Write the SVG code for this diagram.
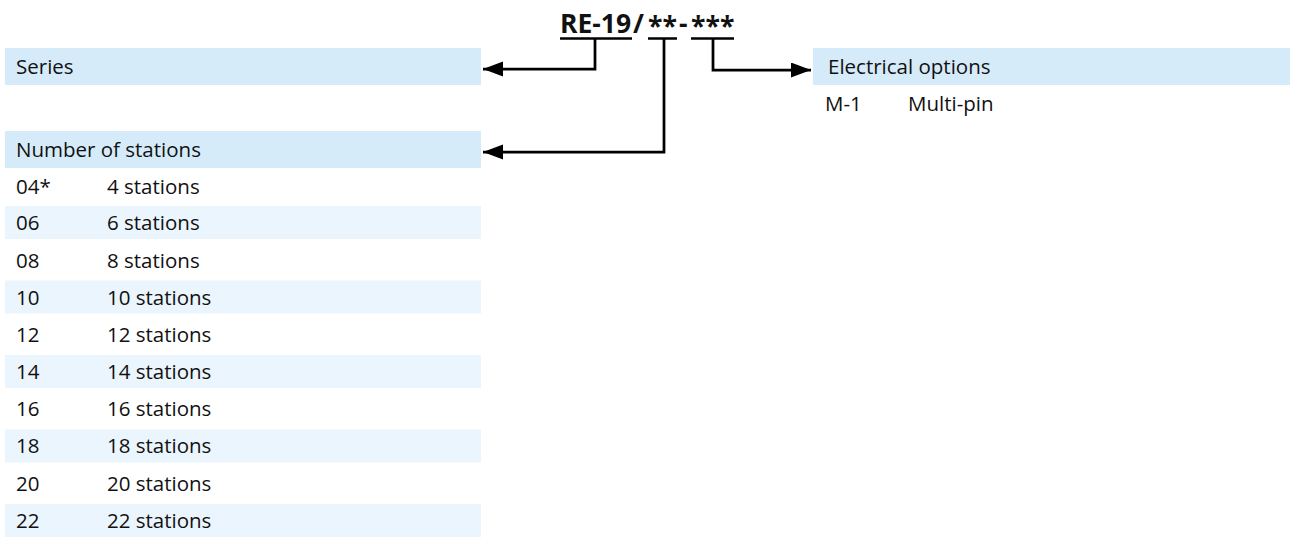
<svg xmlns="http://www.w3.org/2000/svg" width="1299" height="545" viewBox="0 0 1299 545">
<style>
.t{font-family:"Open Sans","Liberation Sans",sans-serif;font-size:20.5px;fill:#111}
.title{font-family:"Open Sans","Liberation Sans",sans-serif;font-size:26.5px;font-weight:bold;fill:#111}
.hdr{fill:#D6EBFA}
.band{fill:#EBF5FD}
.ln{fill:none;stroke:#000;stroke-width:2.75}
.ul{stroke:#000;stroke-width:2.5}
</style>
<defs>
<marker id="ah" markerUnits="userSpaceOnUse" markerWidth="22" markerHeight="16" refX="20" refY="7.5" orient="auto">
<path d="M0,0 L20,7.5 L0,15 Z" fill="#000"/>
</marker>
</defs>
<rect width="1299" height="545" fill="#fff"/>
<g id="title">
<text class="title"><tspan x="560" y="33">RE-19</tspan><tspan x="633" y="33">/</tspan><tspan x="648" y="35.5">**</tspan><tspan x="679" y="33">-</tspan><tspan x="691" y="35.5">***</tspan></text>
<line class="ul" x1="560" y1="38.5" x2="632" y2="38.5"/>
<line class="ul" x1="648" y1="38.5" x2="677" y2="38.5"/>
<line class="ul" x1="691" y1="38.5" x2="734" y2="38.5"/>
</g>
<g id="series">
<rect class="hdr" x="5" y="48" width="476" height="37"/>
<text class="t" x="16" y="74">Series</text>
</g>
<g id="stations">
<rect class="hdr" x="5" y="131" width="476" height="37"/>
<text class="t" x="16" y="157">Number of stations</text>
<rect class="band" x="5" y="206" width="476" height="33"/>
<rect class="band" x="5" y="280.5" width="476" height="33"/>
<rect class="band" x="5" y="355" width="476" height="33"/>
<rect class="band" x="5" y="429.5" width="476" height="33"/>
<rect class="band" x="5" y="504" width="476" height="33"/>
<text class="t" x="16" y="194">04*</text><text class="t" x="107" y="194">4 stations</text>
<text class="t" x="16" y="230">06</text><text class="t" x="107" y="230">6 stations</text>
<text class="t" x="16" y="268">08</text><text class="t" x="107" y="268">8 stations</text>
<text class="t" x="16" y="305">10</text><text class="t" x="107" y="305">10 stations</text>
<text class="t" x="16" y="342">12</text><text class="t" x="107" y="342">12 stations</text>
<text class="t" x="16" y="379">14</text><text class="t" x="107" y="379">14 stations</text>
<text class="t" x="16" y="416">16</text><text class="t" x="107" y="416">16 stations</text>
<text class="t" x="16" y="453">18</text><text class="t" x="107" y="453">18 stations</text>
<text class="t" x="16" y="491">20</text><text class="t" x="107" y="491">20 stations</text>
<text class="t" x="16" y="528">22</text><text class="t" x="107" y="528">22 stations</text>
</g>
<g id="electrical">
<rect class="hdr" x="813" y="48" width="477" height="37"/>
<text class="t" x="828" y="74">Electrical options</text>
<text class="t" x="825" y="111">M-1</text>
<text class="t" x="908" y="111">Multi-pin</text>
</g>
<g id="connectors">
<path class="ln" d="M595,38.5 V69 H483" marker-end="url(#ah)"/>
<path class="ln" d="M664,38.5 V152 H483" marker-end="url(#ah)"/>
<path class="ln" d="M713,38.5 V70 H811" marker-end="url(#ah)"/>
</g>
</svg>
